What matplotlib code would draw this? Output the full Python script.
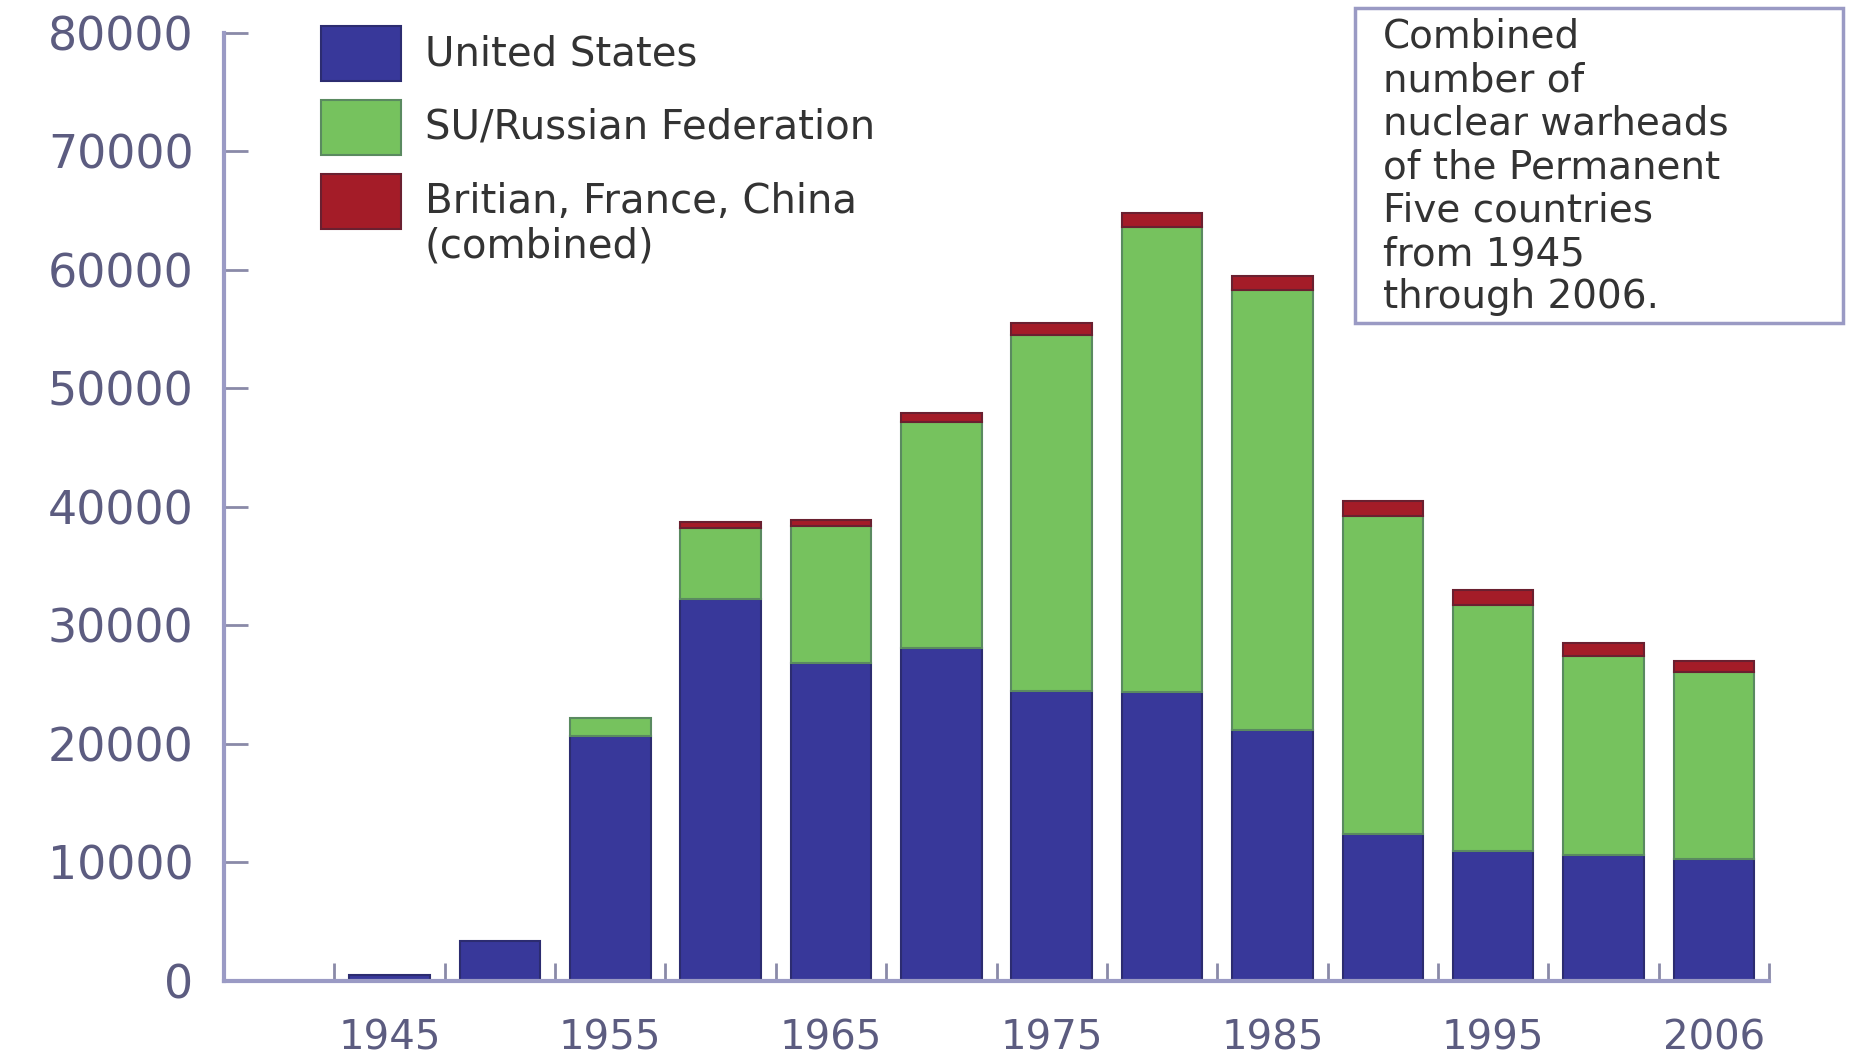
import matplotlib
matplotlib.use("Agg")
import matplotlib.pyplot as plt
from matplotlib.patches import Rectangle
import numpy as np

years = ["1945", "1950", "1955", "1960", "1965", "1970", "1975",
         "1980", "1985", "1990", "1995", "2000", "2006"]
shown_years = ["1945", "1955", "1965", "1975", "1985", "1995", "2006"]

us = [500, 3400, 20700, 32200, 26800, 28100, 24500,
      24400, 21200, 12400, 11000, 10600, 10300]
su = [0, 0, 1500, 6000, 11600, 19100, 30000,
      39200, 37100, 26800, 20700, 16800, 15800]
other = [0, 0, 0, 500, 500, 700, 1000,
         1200, 1200, 1300, 1300, 1100, 900]

names = ["United States", "SU/Russian Federation",
         "Britian, France, China\n(combined)"]
colors = ["#38389a", "#76c25e", "#a41c28"]
edges = ["#2c2c70", "#5a8a60", "#6a2030"]

axis_col = "#9a9ac4"
tick_txt = "#5c5c80"

fig = plt.figure(figsize=(18.53, 10.57), dpi=100)
ax = fig.add_axes([0.1209, 0.0719, 0.8338, 0.8969])

x = np.arange(len(years))
bottom = np.zeros(len(years))
for vals, c, e in zip([us, su, other], colors, edges):
    # no outline on empty segments
    lw = [1.5 if v > 0 else 0 for v in vals]
    ax.bar(x, vals, width=0.73, bottom=bottom, color=c, edgecolor=e, linewidth=lw)
    bottom += np.array(vals)

ax.set_xlim(-1.5, 12.5)
ax.set_ylim(0, 80000)

for s in ["top", "right"]:
    ax.spines[s].set_visible(False)
for s in ["left", "bottom"]:
    ax.spines[s].set_color(axis_col)
    ax.spines[s].set_linewidth(3)

ax.set_yticks(range(0, 80001, 10000))
ax.tick_params(axis="y", direction="in", length=17, width=2, color="#8a8aa8",
               labelsize=33, labelcolor=tick_txt, pad=22)

lab_pos = [years.index(y) for y in shown_years]
ax.set_xticks(lab_pos)
ax.set_xticklabels(shown_years)
ax.tick_params(axis="x", which="major", length=0, labelsize=29,
               labelcolor=tick_txt, pad=27)
ax.set_xticks(np.arange(-0.5, 12.6, 1), minor=True)
ax.tick_params(axis="x", which="minor", direction="in", length=13, width=2,
               color="#8a8aa8")

# legend
leg_top = [26, 100, 174]
for name, c, e, top in zip(names, colors, edges, leg_top):
    fig.patches.append(Rectangle((321 / 1853, 1 - (top + 55) / 1057), 80 / 1853, 55 / 1057,
                                 transform=fig.transFigure, facecolor=c,
                                 edgecolor=e, linewidth=1.5))
    fig.text(425 / 1853, 1 - (top + 8) / 1057, name, fontsize=29, color="#333333",
             va="top", ha="left", linespacing=1.15)

# annotation box
fig.patches.append(Rectangle((1355 / 1853, 1 - 323 / 1057), 488 / 1853, 315 / 1057,
                             transform=fig.transFigure, facecolor="white",
                             edgecolor=axis_col, linewidth=2.5))
fig.text(1383 / 1853, 1 - 18 / 1057,
         "Combined\nnumber of\nnuclear warheads\nof the Permanent\nFive countries\nfrom 1945\nthrough 2006.",
         fontsize=28, color="#333333", va="top", ha="left", linespacing=1.18)

fig.savefig("out.png", dpi=100, facecolor="white")
